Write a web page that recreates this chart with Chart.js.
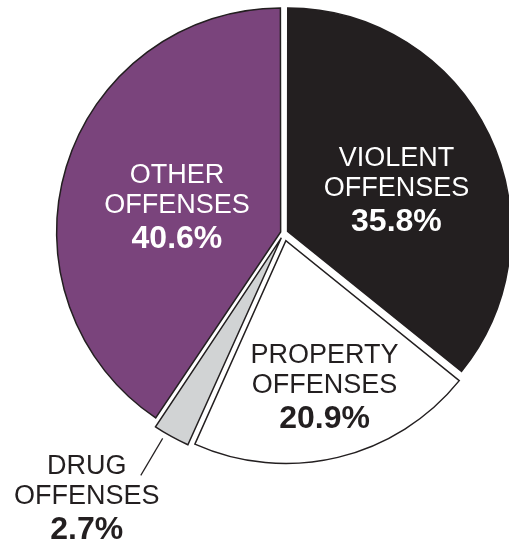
<!DOCTYPE html>
<html>
<head>
<meta charset="utf-8">
<script src="https://cdn.jsdelivr.net/npm/chart.js@4"></script>
<style>
  body { margin: 0; background: #ffffff; }
</style>
</head>
<body>
<canvas id="pieCanvas" width="509" height="542"></canvas>
<script>
// Slice data, clockwise from 12 o'clock
const categories = ['VIOLENT OFFENSES', 'PROPERTY OFFENSES', 'DRUG OFFENSES', 'OTHER OFFENSES'];
const shares = [35.8, 20.9, 2.7, 40.6];

const sliceColors = ['#231f20', '#ffffff', '#d1d3d4', '#7a447c'];
const textColors = ['#ffffff', '#231f20', '#231f20', '#ffffff'];
const sliceOffsets = [16, 32, 22, 14];  // chart.js draws offset / 4 px

// Where each label sits: fraction of radius along the slice middle, or a leader line
const labelPlace = [
    { shift: 2.8, dist: 0.548 },
    { shift: -1.6, dist: 0.70 },
    { shift: 1.6, leader: [16, 59], dx: -54, dy: 19 },
    { shift: -1.2, dist: 0.50 }
];

const fontFamily = '"Liberation Sans", Arial, Helvetica, sans-serif';

const sliceLabels = {
    id: 'sliceLabels',
    afterDatasetsDraw(chart) {
        const ctx = chart.ctx;
        const arcs = chart.getDatasetMeta(0).data;
        ctx.save();
        arcs.forEach((arc, i) => {
            const p = labelPlace[i];
            const mid = (arc.startAngle + arc.endAngle) / 2 + p.shift * Math.PI / 180;
            const r = arc.outerRadius;
            let cx, cy;
            if (p.leader) {
                const x1 = arc.x + Math.cos(mid) * (r + p.leader[0]);
                const y1 = arc.y + Math.sin(mid) * (r + p.leader[0]);
                const x2 = arc.x + Math.cos(mid) * (r + p.leader[1]);
                const y2 = arc.y + Math.sin(mid) * (r + p.leader[1]);
                ctx.strokeStyle = '#231f20';
                ctx.lineWidth = 1.2;
                ctx.beginPath();
                ctx.moveTo(x1, y1);
                ctx.lineTo(x2, y2);
                ctx.stroke();
                cx = x2 + p.dx;
                cy = y2 + p.dy;
            } else {
                cx = arc.x + Math.cos(mid) * r * p.dist;
                cy = arc.y + Math.sin(mid) * r * p.dist;
            }
            const words = categories[i].split(' ');
            ctx.fillStyle = textColors[i];
            ctx.textAlign = 'center';
            ctx.textBaseline = 'alphabetic';
            ctx.font = '27px ' + fontFamily;
            ctx.fillText(words[0], cx, cy - 20);
            ctx.fillText(words[1], cx, cy + 10);
            ctx.font = 'bold 32px ' + fontFamily;
            ctx.fillText(shares[i].toFixed(1) + '%', cx, cy + 45);
        });
        ctx.restore();
    }
};

const ctx = document.getElementById('pieCanvas').getContext('2d');
const chart = new Chart(ctx, {
    type: 'pie',
    data: {
        labels: categories,
        datasets: [{
            data: shares,
            backgroundColor: sliceColors,
            borderColor: '#231f20',
            borderWidth: 1.5,
            borderJoinStyle: 'miter',
            offset: sliceOffsets,
            hoverOffset: 0,
            clip: false
        }]
    },
    options: {
        responsive: false,
        animation: false,
        radius: 222.5,
        layout: {
            padding: { left: 59, right: 0, top: 0, bottom: 76 }
        },
        plugins: {
            legend: { display: false },
            tooltip: { enabled: false }
        },
        events: []
    },
    plugins: [sliceLabels]
});
</script>
</body>
</html>
